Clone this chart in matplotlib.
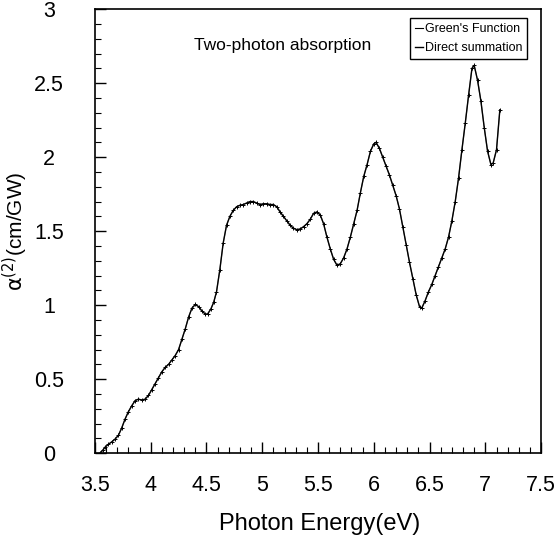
import matplotlib.pyplot as plt
from matplotlib.ticker import MultipleLocator

plt.rcParams['font.family'] = ['Liberation Sans', 'DejaVu Sans']

energy = [3.545, 3.57, 3.59, 3.62, 3.65, 3.68, 3.71, 3.74, 3.77, 3.80, 3.83, 3.86,
          3.89, 3.92, 3.95, 3.98, 4.01, 4.04, 4.07, 4.10, 4.13, 4.16, 4.19, 4.22,
          4.25, 4.28, 4.31, 4.34, 4.37, 4.40, 4.43, 4.46, 4.49, 4.51, 4.54, 4.565,
          4.59, 4.62, 4.65, 4.68, 4.71, 4.74, 4.77, 4.80, 4.83, 4.86, 4.89, 4.92,
          4.95, 4.98, 5.01, 5.04, 5.07, 5.10, 5.13, 5.16, 5.19, 5.22, 5.25, 5.28,
          5.31, 5.34, 5.37, 5.40, 5.43, 5.46, 5.49, 5.52, 5.55, 5.58, 5.61, 5.64,
          5.67, 5.70, 5.73, 5.76, 5.79, 5.82, 5.85, 5.88, 5.91, 5.94, 5.97, 6.00,
          6.02, 6.05, 6.08, 6.11, 6.14, 6.17, 6.20, 6.23, 6.26, 6.29, 6.32, 6.35,
          6.38, 6.41, 6.43, 6.46, 6.49, 6.52, 6.55, 6.58, 6.61, 6.64, 6.67, 6.70,
          6.73, 6.76, 6.79, 6.82, 6.85, 6.88, 6.90, 6.93, 6.96, 6.99, 7.02, 7.05,
          7.07, 7.10, 7.13]

green_alpha = [0.00, 0.02, 0.04, 0.06, 0.076, 0.095, 0.12, 0.17, 0.23, 0.28, 0.32, 0.355,
               0.365, 0.36, 0.365, 0.39, 0.43, 0.47, 0.51, 0.55, 0.58, 0.60, 0.63, 0.66,
               0.70, 0.77, 0.84, 0.92, 0.98, 1.005, 0.99, 0.96, 0.94, 0.94, 0.975, 1.02,
               1.09, 1.24, 1.42, 1.54, 1.60, 1.64, 1.665, 1.675, 1.68, 1.69, 1.70, 1.70,
               1.69, 1.68, 1.685, 1.685, 1.68, 1.68, 1.665, 1.63, 1.60, 1.57, 1.54, 1.52,
               1.51, 1.515, 1.53, 1.55, 1.58, 1.62, 1.63, 1.61, 1.55, 1.46, 1.38, 1.31,
               1.27, 1.28, 1.32, 1.38, 1.46, 1.55, 1.64, 1.76, 1.87, 1.95, 2.04, 2.09,
               2.10, 2.06, 2.00, 1.94, 1.88, 1.81, 1.74, 1.65, 1.53, 1.41, 1.29, 1.18,
               1.07, 0.99, 0.98, 1.03, 1.09, 1.14, 1.20, 1.26, 1.32, 1.38, 1.46, 1.57,
               1.70, 1.86, 2.05, 2.23, 2.42, 2.60, 2.62, 2.52, 2.38, 2.20, 2.04, 1.95,
               1.96, 2.05, 2.32]

# both methods give the same curve on this scale
direct_alpha = list(green_alpha)

xtick_vals = [3.5, 4, 4.5, 5, 5.5, 6, 6.5, 7, 7.5]
xtick_text = ['3.5', '4', '4.5', '5', '5.5', '6', '6.5', '7', '7.5']
ytick_vals = [0, 0.5, 1, 1.5, 2, 2.5, 3]
ytick_text = ['0', '0.5', '1', '1.5', '2', '2.5', '3']

fig, ax = plt.subplots(figsize=(5.55, 5.37), dpi=100)
fig.subplots_adjust(left=0.171, right=0.975, bottom=0.156, top=0.983)

ax.plot(energy, green_alpha, color='#888888', linewidth=0.8, label="Green's Function")
ax.plot(energy, direct_alpha, color='black', linewidth=1.0, marker='+',
        markersize=3.5, markeredgewidth=0.7, label='Direct summation')

ax.set_xlim(3.5, 7.5)
ax.set_ylim(0, 3)
ax.xaxis.set_minor_locator(MultipleLocator(0.1))
ax.yaxis.set_minor_locator(MultipleLocator(0.1))
ax.set_xticks(xtick_vals)
ax.set_xticklabels(xtick_text)
ax.set_yticks(ytick_vals)
ax.set_yticklabels(ytick_text, ha='center')
ax.tick_params(which='major', direction='in', length=8, width=1, labelsize=15.5)
ax.tick_params(axis='x', which='major', pad=16)
ax.tick_params(axis='y', which='major', pad=33)
ax.tick_params(which='minor', direction='in', length=4, width=0.8)
for s in ax.spines.values():
    s.set_linewidth(1.2)

ax.set_xlabel('Photon Energy(eV)', fontsize=17)
ax.xaxis.set_label_coords(0.504, -0.135)
ax.set_ylabel(r'$\mathrm{\alpha}^{(2)}$(cm/GW)', fontsize=15)
ax.yaxis.set_label_coords(-0.146, 0.5)

ax.text(0.42, 0.919, 'Two-photon absorption', transform=ax.transAxes,
        fontsize=12.5, ha='center', va='center')

leg = ax.legend(loc='upper right', bbox_to_anchor=(0.9686, 0.98), borderaxespad=0,
                fontsize=9, handlelength=0.6, handletextpad=0.15, borderpad=0.4,
                labelspacing=0.55, fancybox=False, edgecolor='black', framealpha=1)
leg.get_frame().set_linewidth(1.0)
for h in leg.legend_handles:
    h.set_marker('')
    h.set_color('black')

fig.savefig('out.png', dpi=100)
